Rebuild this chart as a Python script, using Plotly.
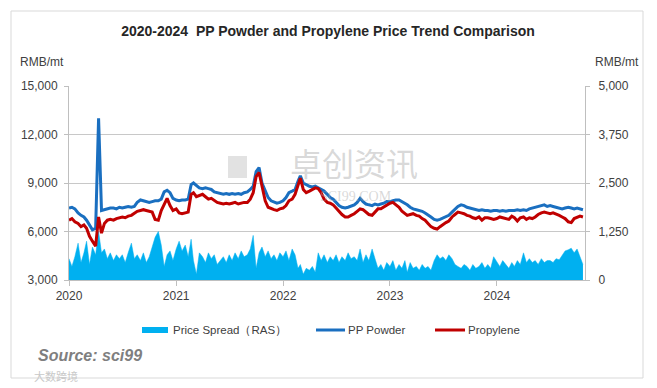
import plotly.graph_objects as go

# ---------------- data (dekad samples: 1st, 11th, 21st of each month) ----------------
years = [2020, 2021, 2022, 2023, 2024]
last_month_2024 = 10
dekad_days = [1, 11, 21]
dates = [f"{y}-{m:02d}-{d:02d}" for y in years
         for m in range(1, (last_month_2024 if y == 2024 else 12) + 1)
         for d in dekad_days]

pp_powder = [
    # 2020
    7450, 7500, 7400, 7150, 7000, 6900, 6700, 6400, 6100, 6200, 13000, 7300,
    7350, 7400, 7450, 7450, 7400, 7500, 7450, 7500, 7550, 7500, 7550, 7800,
    7950, 7900, 7850, 7800, 7850, 7900, 7900, 8000, 8450, 8550, 8400, 8050,
    # 2021
    7950, 7900, 7950, 7950, 8000, 8900, 9000, 8850, 8700, 8650, 8700, 8650,
    8600, 8450, 8400, 8350, 8300, 8350, 8300, 8350, 8300, 8350, 8300, 8400,
    8450, 8600, 8800, 9700, 9950, 9000, 8500, 8100, 7900, 7800, 7750, 7800,
    # 2022
    7900, 8100, 8400, 8500, 8600, 9100, 9450, 9000, 8900, 8800, 8750, 8800,
    8700, 8600, 8500, 8300, 8100, 8000, 7800, 7600, 7500, 7450, 7500, 7550,
    7650, 7800, 8050, 7850, 7700, 7650, 7600, 7700, 7650, 7700, 7750, 7850,
    # 2023
    7850, 7900, 7950, 7950, 7850, 7750, 7650, 7500, 7400, 7350, 7300, 7250,
    7150, 7000, 6900, 6750, 6700, 6750, 6850, 6900, 7000, 7200, 7400, 7550,
    7650, 7600, 7500, 7450, 7400, 7350, 7300, 7350, 7300, 7300, 7250, 7300,
    # 2024
    7300, 7250, 7300, 7250, 7300, 7300, 7300, 7350, 7300, 7350, 7300, 7400,
    7450, 7500, 7550, 7600, 7650, 7550, 7600, 7550, 7500, 7450, 7400, 7450,
    7500, 7450, 7400, 7450, 7400, 7350,
]

propylene = [
    # 2020
    6700, 6800, 6600, 6500, 6300, 6400, 6200, 5700, 5400, 5100, 6900, 5900,
    6500, 6700, 6750, 6700, 6800, 6850, 6900, 6850, 6950, 7000, 7100, 7250,
    7300, 7350, 7300, 7250, 7200, 6750, 6700, 7300, 7700, 8050, 7600, 7300,
    # 2021
    7400, 7150, 7100, 7150, 7200, 8300, 8400, 8150, 8200, 8300, 8150, 8000,
    8050, 7900, 7800, 7750, 7700, 7750, 7700, 7750, 7800, 7700, 7750, 7800,
    7800, 8000, 8400, 9400, 9650, 8700, 7900, 7500, 7400, 7350, 7300, 7400,
    # 2022
    7450, 7600, 7900, 8000, 8300, 8900, 9300, 8600, 8400, 8500, 8600, 8700,
    8650, 8400, 8000, 7800, 7750, 7650, 7450, 7250, 7050, 6900, 6900, 7000,
    7100, 7250, 7400, 7350, 7200, 7050, 7000, 7200, 7400, 7400, 7500, 7650,
    # 2023
    7750, 7800, 7650, 7500, 7250, 7100, 7000, 7050, 7100, 7000, 6950, 6800,
    6700, 6500, 6300, 6200, 6150, 6300, 6450, 6550, 6650, 6900, 7050, 7200,
    7150, 7100, 7000, 6950, 6850, 6800, 6900, 6700, 6850, 6850, 6800, 6750,
    # 2024
    6800, 6900, 6850, 6800, 6750, 6950, 6850, 6650, 6850, 6900, 6750, 6850,
    6800, 6900, 7050, 7150, 7200, 7150, 7100, 7150, 7100, 7000, 6900, 6800,
    6600, 6550, 6800, 6900, 6950, 6900,
]

price_spread = [
    # 2020
    550, 350, 600, 950, 450, 700, 1000, 400, 850, 650, 1250, 700,
    800, 550, 700, 500, 650, 550, 650, 450, 700, 950, 550, 650,
    500, 700, 450, 600, 850, 1100, 1250, 900, 350, 650, 750, 500,
    # 2021
    800, 1000, 750, 900, 600, 1050, 500, 150, 700, 600, 450, 700,
    550, 650, 400, 500, 600, 450, 650, 500, 700, 550, 750, 600,
    650, 800, 1150, 300, 700, 850, 600, 750, 550, 650, 500, 700,
    # 2022
    600, 750, 500, 800, 650, 300, 400, 150, 300, 250, 350, 200,
    700, 500, 650, 450, 600, 500, 650, 450, 600, 500, 700, 550,
    600, 500, 800, 450, 650, 500, 800, 550, 300, 400, 250, 450,
    # 2023
    350, 500, 250, 400, 300, 500, 200, 450, 300, 350, 250, 400,
    300, 350, 250, 500, 650, 550, 600, 500, 650, 550, 400, 350,
    300, 400, 350, 250, 400, 300, 350, 450, 300, 400, 300, 600,
    # 2024
    450, 350, 500, 400, 300, 450, 350, 500, 400, 700, 450, 550,
    450, 500, 400, 550, 450, 500, 500, 450, 550, 520, 650, 750,
    780, 820, 700, 800, 600, 400,
]

left_ticks = [3000, 6000, 9000, 12000, 15000]
right_ticks = [0, 1250, 2500, 3750, 5000]
year_ticks = ["2020-01-01", "2021-01-01", "2022-01-01", "2023-01-01", "2024-01-01"]
year_labels = ["2020", "2021", "2022", "2023", "2024"]

assert len(dates) == len(pp_powder) == len(propylene) == len(price_spread)

# ---------------- styling ----------------
FONT = "Liberation Sans, Arial, sans-serif"
C_SPREAD = "#00B0F0"
C_PP = "#1A6FC0"
C_PROP = "#C00000"
C_AXIS = "#BFBFBF"
C_TEXT = "#404040"

# page body has an 8px margin: work in reference-pixel coordinates, shifted by OFF
OFF = 8
W, H = 657 - OFF, 388 - OFF
L, R, T, B = 69, 585, 86, 280   # plot area in reference pixels


def px(x):
    return (x - L) / (R - L)


def py(y):
    return (B - y) / (B - T)


fig = go.Figure()

fig.add_trace(go.Scatter(
    x=dates, y=price_spread, name="Price Spread（RAS）", mode="lines",
    line=dict(color=C_SPREAD, width=0.5), fill="tozeroy", fillcolor=C_SPREAD,
    yaxis="y", showlegend=False,
))
fig.add_trace(go.Scatter(
    x=dates, y=pp_powder, name="PP Powder", mode="lines",
    line=dict(color=C_PP, width=3), yaxis="y2", showlegend=False,
))
fig.add_trace(go.Scatter(
    x=dates, y=propylene, name="Propylene", mode="lines",
    line=dict(color=C_PROP, width=3), yaxis="y2", showlegend=False,
))

fig.update_layout(
    width=W, height=H,
    margin=dict(l=L - OFF, r=657 - R, t=T - OFF, b=388 - B, autoexpand=False),
    paper_bgcolor="white", plot_bgcolor="white",
    font=dict(family=FONT, size=12, color=C_TEXT),
    title=dict(text="2020-2024 \u00a0PP Powder and Propylene Price Trend Comparison",
               x=(328 - OFF) / W, xanchor="center", y=1 - (31 - OFF) / H, yanchor="middle",
               font=dict(family=FONT, size=14, color="#262626", weight="bold")),
    xaxis=dict(type="date", range=["2020-01-01", "2024-10-28"],
               tickvals=year_ticks, ticktext=year_labels,
               showgrid=False, showline=True, linecolor=C_AXIS, linewidth=1,
               ticks="outside", ticklen=5, tickcolor=C_AXIS,
               tickfont=dict(size=12, color=C_TEXT)),
    yaxis=dict(side="right", range=[0, 5000], tickvals=right_ticks,
               tickformat=",", showgrid=False, zeroline=False,
               showline=True, linecolor=C_AXIS, linewidth=1,
               ticks="outside", ticklen=4, tickcolor=C_AXIS,
               ticklabelstandoff=6,
               tickfont=dict(size=12, color=C_TEXT)),
    yaxis2=dict(side="left", overlaying="y", range=[3000, 15000],
                tickvals=left_ticks, tickformat=",",
                showgrid=True, gridcolor="#C8C8C8", gridwidth=1, zeroline=False,
                showline=True, linecolor=C_AXIS, linewidth=1,
                ticks="outside", ticklen=4, tickcolor=C_AXIS,
                ticklabelstandoff=4,
                tickfont=dict(size=12, color=C_TEXT)),
)

shapes = []
annotations = []

# outer border
shapes.append(dict(type="rect", xref="paper", yref="paper",
                   x0=px(11), x1=px(643), y0=py(11), y1=py(378),
                   line=dict(color="#D9D9D9", width=1), fillcolor="rgba(0,0,0,0)",
                   layer="below"))

# watermark logo block
shapes.append(dict(type="rect", xref="paper", yref="paper",
                   x0=px(228), x1=px(247), y0=py(156), y1=py(178),
                   line=dict(width=0), fillcolor="rgba(190,190,190,0.45)", layer="below"))

# axis unit labels
annotations.append(dict(text="RMB/mt", xref="paper", yref="paper", x=px(18), y=py(62),
                        xanchor="left", yanchor="middle", showarrow=False,
                        font=dict(size=12, color=C_TEXT)))
annotations.append(dict(text="RMB/mt", xref="paper", yref="paper", x=px(641), y=py(62),
                        xanchor="right", yanchor="middle", showarrow=False,
                        font=dict(size=12, color=C_TEXT)))

# watermark text
annotations.append(dict(text="卓创资讯", xref="paper", yref="paper", x=px(354), y=py(162),
                        xanchor="center", yanchor="middle", showarrow=False, borderpad=0,
                        font=dict(family="Noto Sans CJK SC", size=32,
                                  color="rgba(170,170,170,0.45)")))
annotations.append(dict(text="SCI99.COM", xref="paper", yref="paper", x=px(356), y=py(196),
                        xanchor="center", yanchor="middle", showarrow=False, borderpad=0,
                        font=dict(family="Liberation Serif", size=14,
                                  color="rgba(170,170,170,0.45)")))

# custom legend
leg_y = 330
shapes.append(dict(type="rect", xref="paper", yref="paper",
                   x0=px(142), x1=px(168), y0=py(327), y1=py(333),
                   line=dict(width=0), fillcolor=C_SPREAD))
annotations.append(dict(text="Price Spread（RAS）", xref="paper", yref="paper",
                        x=px(171), y=py(leg_y), xanchor="left", yanchor="middle",
                        showarrow=False, font=dict(size=11.5, color=C_TEXT)))
shapes.append(dict(type="line", xref="paper", yref="paper",
                   x0=px(316), x1=px(345), y0=py(leg_y), y1=py(leg_y),
                   line=dict(color=C_PP, width=3)))
annotations.append(dict(text="PP Powder", xref="paper", yref="paper",
                        x=px(346), y=py(leg_y), xanchor="left", yanchor="middle",
                        showarrow=False, font=dict(size=11.5, color=C_TEXT)))
shapes.append(dict(type="line", xref="paper", yref="paper",
                   x0=px(435), x1=px(465), y0=py(leg_y), y1=py(leg_y),
                   line=dict(color=C_PROP, width=3)))
annotations.append(dict(text="Propylene", xref="paper", yref="paper",
                        x=px(466), y=py(leg_y), xanchor="left", yanchor="middle",
                        showarrow=False, font=dict(size=11.5, color=C_TEXT)))

# source note
annotations.append(dict(text="<b><i>Source: sci99</i></b>", xref="paper", yref="paper",
                        x=px(37), y=py(355), xanchor="left", yanchor="middle",
                        showarrow=False, borderpad=0,
                        font=dict(size=16, color="#7F7F7F")))
annotations.append(dict(text="大数跨境", xref="paper", yref="paper",
                        x=px(33), y=py(376), xanchor="left", yanchor="middle",
                        showarrow=False, borderpad=0,
                        font=dict(family="Noto Sans CJK SC", size=11, color="#C8C8C8")))

fig.update_layout(shapes=shapes, annotations=annotations)

fig.write_html("out.html")
